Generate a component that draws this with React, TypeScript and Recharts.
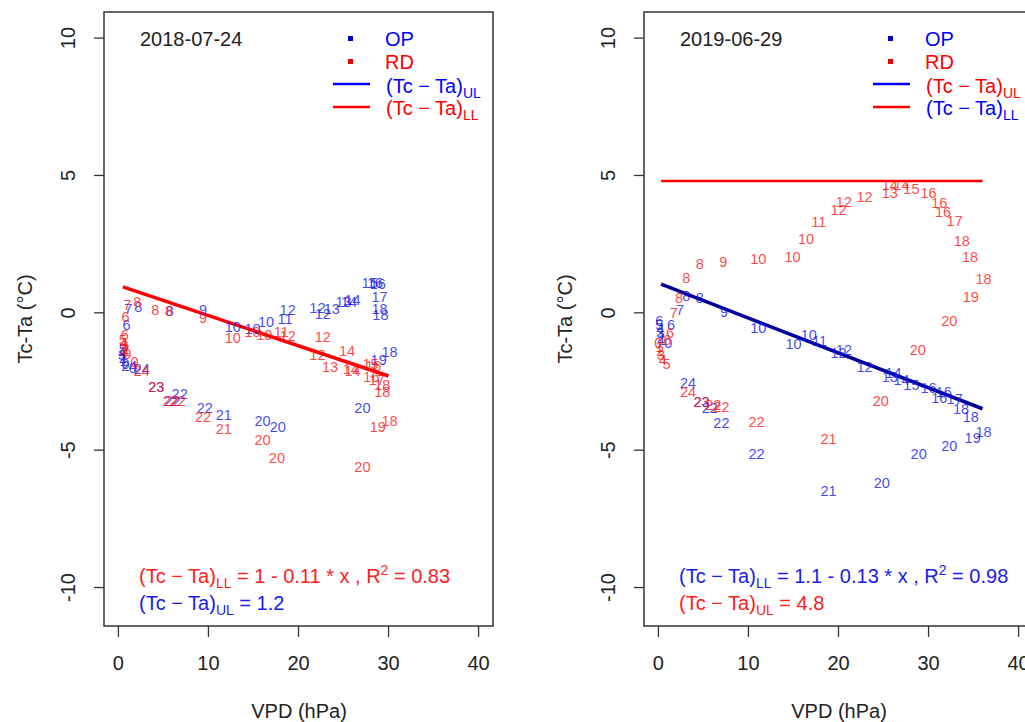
import {
  ScatterChart,
  Scatter,
  XAxis,
  YAxis,
  ReferenceArea,
  ReferenceLine,
} from "recharts";

// [hour, VPD (hPa), Tc-Ta (°C)]
const op2018: [number, number, number][] = [
  [6, 0.9, -0.45], [7, 1.1, 0.13], [8, 2.2, 0.2], [8, 5.7, 0.05],
  [5, 0.5, -1.3], [4, 0.4, -1.45], [3, 0.4, -1.55], [2, 0.5, -1.65],
  [1, 0.6, -1.75], [0, 0.8, -1.85], [24, 1.2, -1.95], [0, 1.6, -2.0],
  [24, 2.6, -2.06], [23, 4.2, -2.7], [22, 6.0, -3.2], [22, 6.8, -2.95],
  [22, 9.6, -3.45], [21, 11.7, -3.73], [20, 16.0, -3.95], [20, 17.7, -4.17],
  [20, 27.1, -3.48], [9, 9.4, 0.1], [10, 12.7, -0.5], [10, 14.9, -0.6],
  [10, 16.4, -0.35], [11, 18.5, -0.24], [12, 18.8, 0.1], [12, 22.1, 0.16],
  [12, 22.7, -0.05], [13, 23.7, 0.13], [13, 25.0, 0.38], [14, 25.6, 0.4],
  [14, 26.0, 0.45], [15, 27.9, 1.07], [16, 28.5, 1.07], [16, 28.8, 1.05],
  [17, 29.0, 0.56], [18, 29.0, 0.13], [18, 29.1, -0.09], [18, 30.1, -1.44],
  [19, 28.9, -1.7],
];

const rd2018: [number, number, number][] = [
  [7, 1.0, 0.27], [8, 2.1, 0.38], [8, 4.1, 0.12], [8, 5.6, 0.08],
  [9, 9.4, -0.2], [10, 12.7, -0.93], [10, 14.9, -0.71], [10, 16.2, -0.8],
  [11, 18.1, -0.7], [12, 18.8, -0.85], [12, 22.7, -0.89], [12, 22.1, -1.55],
  [13, 23.5, -1.98], [14, 25.4, -1.4], [14, 26.0, -2.1], [14, 25.8, -2.05],
  [15, 28.0, -1.85], [16, 28.3, -1.95], [16, 28.1, -2.35], [17, 28.7, -2.46],
  [18, 29.3, -2.64], [18, 29.3, -2.9], [18, 30.1, -3.92], [19, 28.8, -4.17],
  [20, 27.1, -5.6], [20, 17.6, -5.3], [20, 16.0, -4.64], [21, 11.7, -4.24],
  [22, 9.4, -3.8], [22, 5.8, -3.2], [22, 6.6, -3.2], [23, 4.2, -2.7],
  [24, 2.6, -2.1], [0, 1.8, -1.8], [6, 0.8, -0.16], [6, 0.7, -0.82],
  [5, 0.5, -1.0], [4, 0.6, -1.1], [3, 0.7, -1.2], [2, 0.8, -1.3],
  [1, 0.9, -1.4], [0, 1.0, -1.5],
];

const op2019: [number, number, number][] = [
  [6, 0.1, -0.3], [5, 0.1, -0.45], [4, 0.2, -0.6], [3, 0.2, -0.75],
  [2, 0.3, -0.9], [1, 0.4, -1.0], [0, 1.1, -1.1], [6, 1.4, -0.45],
  [7, 2.4, 0.09], [8, 3.1, 0.6], [8, 4.6, 0.53], [9, 7.3, 0.02],
  [10, 11.1, -0.56], [10, 15.0, -1.15], [10, 16.7, -0.82], [11, 17.9, -1.04],
  [12, 20.0, -1.48], [12, 20.6, -1.37], [12, 22.9, -1.99], [13, 25.7, -2.35],
  [14, 26.1, -2.2], [14, 27.0, -2.46], [15, 28.1, -2.64], [16, 30.0, -2.75],
  [16, 31.7, -2.9], [16, 31.2, -3.1], [17, 32.9, -3.15], [18, 33.6, -3.5],
  [18, 34.7, -3.8], [18, 36.1, -4.35], [19, 34.9, -4.57], [20, 32.3, -4.83],
  [20, 28.9, -5.15], [20, 24.8, -6.2], [21, 18.9, -6.5], [22, 10.9, -5.15],
  [22, 7.0, -4.0], [22, 5.7, -3.48], [23, 4.8, -3.26], [24, 3.3, -2.57],
];

const rd2019: [number, number, number][] = [
  [0, 0.0, -1.1], [1, 0.1, -1.25], [2, 0.2, -1.4], [3, 0.3, -1.55],
  [4, 0.5, -1.7], [5, 0.9, -1.85], [6, 1.3, -0.75], [6, 1.0, -1.0],
  [7, 1.7, 0.0], [8, 2.3, 0.53], [8, 3.1, 1.26], [8, 4.6, 1.77],
  [9, 7.2, 1.84], [10, 11.1, 1.95], [10, 14.9, 2.02], [10, 16.4, 2.68],
  [11, 17.8, 3.3], [12, 20.0, 3.73], [12, 20.6, 4.03], [12, 22.9, 4.2],
  [13, 25.7, 4.36], [14, 25.7, 4.64], [14, 27.0, 4.64], [15, 28.1, 4.5],
  [16, 30.0, 4.36], [16, 31.2, 3.99], [16, 31.6, 3.66], [17, 32.9, 3.33],
  [18, 33.7, 2.6], [18, 34.6, 2.02], [18, 36.1, 1.22], [19, 34.7, 0.56],
  [20, 32.3, -0.31], [20, 28.8, -1.37], [20, 24.7, -3.22], [21, 18.9, -4.6],
  [22, 10.9, -3.99], [22, 7.0, -3.44], [22, 6.1, -3.37], [23, 4.8, -3.26],
  [24, 3.3, -2.9],
];

// fitted limits: intercept, slope, x-range
const fit2018LL = { a: 1, b: -0.11, from: 0.5, to: 30 };
const fit2019LL = { a: 1.08, b: -0.127, from: 0.3, to: 36 };
const fit2019UL = { a: 4.8, b: 0, from: 0.3, to: 36 };

const xTicks = [0, 10, 20, 30, 40];
const yTicks = [-10, -5, 0, 5, 10];
const X_DOMAIN: [number, number] = [-1.6, 41.6];
const Y_DOMAIN: [number, number] = [-11.4, 10.95];

const FONT = "'Liberation Sans', Arial, Helvetica, sans-serif";
const FS = 20;
const SUB = 14;
const BLUE_PT = "rgba(20,20,235,0.8)";
const RED_PT = "rgba(255,20,20,0.8)";

const toRows = (rows: [number, number, number][]) =>
  rows.map(([h, x, y]) => ({ h, x, y }));

const hourLabel = (fill: string) => (props: any) => {
  const { cx, cy, payload } = props;
  if (cx == null || cy == null) return <g />;
  return (
    <text
      x={cx}
      y={cy}
      textAnchor="middle"
      dominantBaseline="central"
      fontSize={14.5}
      fontFamily={FONT}
      fill={fill}
    >
      {payload.h}
    </text>
  );
};

const XTick = (props: any) => {
  const { x, y, payload } = props;
  return (
    <text x={x} y={y + 33} textAnchor="middle" fontSize={FS} fontFamily={FONT} fill="#222">
      {payload.value}
    </text>
  );
};

const YTick = (props: any) => {
  const { x, y, payload } = props;
  const cx = x - 26;
  return (
    <text
      x={cx}
      y={y}
      transform={`rotate(-90, ${cx}, ${y})`}
      textAnchor="middle"
      dominantBaseline="central"
      fontSize={FS}
      fontFamily={FONT}
      fill="#222"
    >
      {payload.value}
    </text>
  );
};

type Fit = { a: number; b: number; from: number; to: number };

const Panel = ({
  left,
  op,
  rd,
  fits,
}: {
  left: number;
  op: [number, number, number][];
  rd: [number, number, number][];
  fits: { fit: Fit; color: string; width: number }[];
}) => (
  <div style={{ position: "absolute", left, top: 0 }}>
    <ScatterChart width={520} height={722} margin={{ top: 12, right: 27, bottom: 56, left: 0 }}>
      <XAxis
        type="number"
        dataKey="x"
        domain={X_DOMAIN}
        ticks={xTicks}
        interval={0}
        height={40}
        axisLine={false}
        tickLine={{ stroke: "#333", strokeWidth: 1.3 }}
        tickSize={11}
        tickMargin={0}
        tick={<XTick />}
        allowDataOverflow
      />
      <YAxis
        type="number"
        dataKey="y"
        domain={Y_DOMAIN}
        ticks={yTicks}
        interval={0}
        width={104}
        axisLine={false}
        tickLine={{ stroke: "#333", strokeWidth: 1.3 }}
        tickSize={10}
        tickMargin={0}
        tick={<YTick />}
        allowDataOverflow
      />
      <ReferenceArea
        x1={X_DOMAIN[0]}
        x2={X_DOMAIN[1]}
        y1={Y_DOMAIN[0]}
        y2={Y_DOMAIN[1]}
        fill="none"
        fillOpacity={0}
        stroke="#333"
        strokeWidth={1.5}
        ifOverflow="visible"
      />
      <Scatter data={toRows(op)} shape={hourLabel(BLUE_PT)} isAnimationActive={false} />
      <Scatter data={toRows(rd)} shape={hourLabel(RED_PT)} isAnimationActive={false} />
      {fits.map((f, i) => (
        <ReferenceLine
          key={i}
          segment={[
            { x: f.fit.from, y: f.fit.a + f.fit.b * f.fit.from },
            { x: f.fit.to, y: f.fit.a + f.fit.b * f.fit.to },
          ]}
          stroke={f.color}
          strokeWidth={f.width}
          ifOverflow="visible"
        />
      ))}
    </ScatterChart>
  </div>
);

const Tcta = ({ sub }: { sub: string }) => (
  <>
    (Tc − Ta)
    <tspan fontSize={SUB} dy={5}>
      {sub}
    </tspan>
  </>
);

const Annotations = ({
  dx,
  date,
  ulLineColor,
  ulTextColor,
  llLineColor,
  llTextColor,
  eqColor,
  eq,
  r2,
  ulColor,
  ul,
}: any) => (
  <g transform={`translate(${dx},0)`} fontFamily={FONT} style={{ whiteSpace: "pre" }}>
    <text x={140} y={46} fontSize={FS} fill="#222">
      {date}
    </text>
    <rect x={348} y={36} width={5} height={5} fill="#0000cc" />
    <text x={385} y={46} fontSize={FS} fill="#0000ff">
      OP
    </text>
    <rect x={348} y={59} width={5} height={5} fill="#ee0000" />
    <text x={385} y={69} fontSize={FS} fill="#ff0000">
      RD
    </text>
    <line x1={333} x2={370} y1={84} y2={84} stroke={ulLineColor} strokeWidth={2.5} />
    <text x={386} y={93} fontSize={FS} fill={ulTextColor}>
      <Tcta sub="UL" />
    </text>
    <line x1={333} x2={370} y1={107} y2={107} stroke={llLineColor} strokeWidth={2.5} />
    <text x={386} y={115} fontSize={FS} fill={llTextColor}>
      <Tcta sub="LL" />
    </text>

    <text x={139} y={583} fontSize={FS} fill={eqColor}>
      <Tcta sub="LL" />
      <tspan dy={-5}>{` = ${eq} * x , R`}</tspan>
      <tspan fontSize={SUB} dy={-8}>
        2
      </tspan>
      <tspan dy={8}>{` = ${r2}`}</tspan>
    </text>
    <text x={139} y={610} fontSize={FS} fill={ulColor}>
      <Tcta sub="UL" />
      <tspan dy={-5}>{` = ${ul}`}</tspan>
    </text>

    <text x={299} y={718} fontSize={FS} fill="#222" textAnchor="middle">
      VPD (hPa)
    </text>
    <text
      x={25}
      y={319}
      fontSize={FS}
      fill="#222"
      textAnchor="middle"
      dominantBaseline="central"
      transform="rotate(-90, 25, 319)"
    >
      Tc-Ta (°C)
    </text>
  </g>
);

export default function App() {
  return (
    <div
      style={{
        position: "fixed",
        left: 0,
        top: 0,
        width: 1025,
        height: 722,
        overflow: "hidden",
        background: "#fff",
      }}
    >
      <Panel left={0} op={op2018} rd={rd2018} fits={[{ fit: fit2018LL, color: "#ff0000", width: 3.5 }]} />
      <Panel
        left={540}
        op={op2019}
        rd={rd2019}
        fits={[
          { fit: fit2019UL, color: "#ff0000", width: 2.5 },
          { fit: fit2019LL, color: "#00009a", width: 3.5 },
        ]}
      />
      <svg
        width={1025}
        height={722}
        style={{ position: "absolute", left: 0, top: 0, pointerEvents: "none" }}
      >
        <Annotations
          dx={0}
          date="2018-07-24"
          ulLineColor="#0000ff"
          ulTextColor="#0000ff"
          llLineColor="#ff0000"
          llTextColor="#ff0000"
          eqColor="#ff2020"
          eq="1  -  0.11"
          r2="0.83"
          ulColor="#1a1aee"
          ul="1.2"
        />
        <Annotations
          dx={540}
          date="2019-06-29"
          ulLineColor="#0000ff"
          ulTextColor="#ff0000"
          llLineColor="#ff0000"
          llTextColor="#0000ff"
          eqColor="#1a1aee"
          eq="1.1  -  0.13"
          r2="0.98"
          ulColor="#ff2020"
          ul="4.8"
        />
      </svg>
    </div>
  );
}
